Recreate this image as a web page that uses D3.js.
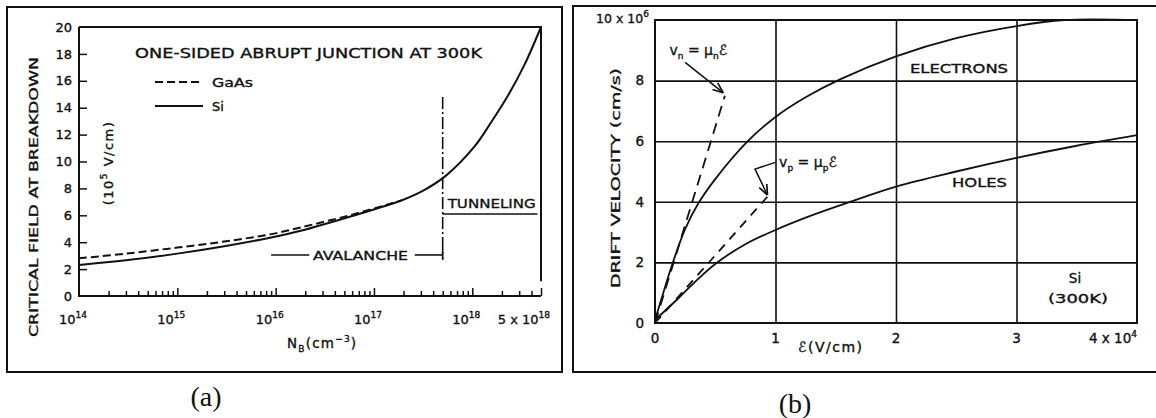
<!DOCTYPE html>
<html><head><meta charset="utf-8">
<script src="https://cdn.jsdelivr.net/npm/d3@7/dist/d3.min.js"></script>
<style>
html,body{margin:0;padding:0;background:#fff;}
svg{display:block;}
text{font-family:"DejaVu Sans",sans-serif;fill:#111;stroke:#111;stroke-width:0.35px;}
text.serif{stroke:none;}
</style></head><body>
<svg id="c" width="1156" height="418"></svg>
<script>
// ---------------- Panel (a): critical field vs doping ----------------
const dopingMajorTicks = [1e14, 1e15, 1e16, 1e17, 1e18, 5e18];
const dopingTickBase = ["10", "10", "10", "10", "10", "5 x 10"];
const dopingTickExp = ["14", "15", "16", "17", "18", "18"];
const fieldTicks = [0, 2, 4, 6, 8, 10, 12, 14, 16, 18, 20];
const siDoping = [1e14, 3e14, 1e15, 3e15, 9e15, 1.8e16, 6e16, 1.9e17, 3.2e17, 5.4e17, 1.05e18, 1.55e18, 2.35e18, 3.4e18, 5e18];
const siField = [2.3, 2.65, 3.15, 3.7, 4.35, 4.85, 5.95, 7.1, 7.85, 8.95, 11.1, 12.9, 15.0, 17.2, 20.0];
const gaasDoping = [1e14, 3e14, 1e15, 3e15, 9e15, 1.8e16, 6e16, 1.9e17];
const gaasField = [2.8, 3.15, 3.6, 4.05, 4.6, 5.1, 6.05, 7.1];
const boundaryDoping = 5e17;          // avalanche / tunneling boundary
const boundaryField = [2.8, 14.8];
const tunnelingField = 6.1;
const avalancheField = 3.05;

// ---------------- Panel (b): drift velocity vs field ----------------
const eTicks = [0, 1, 2, 3, 4];
const eTickLabels = ["0", "1", "2", "3", "4 x 10"];
const vTicks = [0, 2, 4, 6, 8, 10];
const electronE = [0, 0.05, 0.14, 0.25, 0.36, 0.5, 0.77, 1.0, 1.25, 1.54, 2.0, 2.5, 3.0, 3.4, 4.0];
const electronV = [0.1, 0.75, 1.9, 3.1, 3.95, 4.75, 6.0, 6.8, 7.45, 8.05, 8.8, 9.4, 9.8, 10.0, 10.0];
const holeE = [0, 0.19, 0.33, 0.5, 0.75, 1.0, 1.3, 1.6, 2.0, 2.5, 3.0, 3.5, 4.0];
const holeV = [0.1, 0.8, 1.35, 1.95, 2.6, 3.07, 3.55, 3.97, 4.5, 5.0, 5.45, 5.85, 6.2];
const vnE = [0, 0.58], vnV = [0, 7.5];
const vpE = [0, 0.94], vpV = [0, 4.2];

const ink = "#111";
const svg = d3.select("#c");

// marker
const defs = svg.append("defs");
defs.append("marker").attr("id", "arr").attr("viewBox", "0 0 10 10").attr("refX", 9).attr("refY", 5)
  .attr("markerWidth", 7).attr("markerHeight", 7).attr("orient", "auto-start-reverse")
  .append("path").attr("d", "M0,1 L10,5 L0,9").attr("fill", "none").attr("stroke", ink).attr("stroke-width", 1.6);

// panel outer boxes
svg.append("rect").attr("x", 7).attr("y", 7).attr("width", 555).attr("height", 365)
  .attr("fill", "none").attr("stroke", ink).attr("stroke-width", 2);
svg.append("rect").attr("x", 573).attr("y", 6).attr("width", 620).attr("height", 366)
  .attr("fill", "none").attr("stroke", ink).attr("stroke-width", 2);

// ================= Panel (a) =================
const xa = d3.scaleLog().domain([1e14, 5e18]).range([79, 541]);
const ya = d3.scaleLinear().domain([0, 20]).range([296, 27]);
const ga = svg.append("g");

// frame
ga.append("path").attr("d", `M${xa(1e14)},${ya(20)} V${ya(0)} H${xa(5e18)} M${xa(1e14)},${ya(20)} H${xa(5e18)} V${ya(1.1)}`)
  .attr("fill", "none").attr("stroke", ink).attr("stroke-width", 2);

// minor & major ticks on log axis (pointing up)
const minor = [];
for (let e = 14; e <= 18; e++) for (let m = 2; m <= 9; m++) { const v = m * Math.pow(10, e); if (v < 5e18) minor.push(v); }
ga.append("g").attr("transform", `translate(0,${ya(0)})`)
  .call(d3.axisBottom(xa).tickValues(minor).tickSize(-5).tickFormat(""))
  .call(g => g.select(".domain").remove())
  .call(g => g.selectAll("line").attr("stroke", ink).attr("stroke-width", 1.5));
ga.append("g").attr("transform", `translate(0,${ya(0)})`)
  .call(d3.axisBottom(xa).tickValues(dopingMajorTicks.slice(1)).tickSize(-8).tickFormat(""))
  .call(g => g.select(".domain").remove())
  .call(g => g.selectAll("line").attr("stroke", ink).attr("stroke-width", 1.5));

// x tick labels
dopingMajorTicks.forEach((v, i) => {
  const last = i === dopingMajorTicks.length - 1;
  const t = ga.append("text").attr("x", last ? xa(v) + 9 : xa(v) - 6).attr("y", 324)
    .attr("text-anchor", last ? "end" : "middle").attr("font-size", 13);
  t.append("tspan").text(dopingTickBase[i]);
  t.append("tspan").attr("dy", -6).attr("font-size", 9).text(dopingTickExp[i]);
});

// y ticks (inward)
ga.append("g").attr("transform", `translate(${xa(1e14)},0)`)
  .call(d3.axisLeft(ya).tickValues(fieldTicks.slice(1, -1)).tickSize(-8).tickFormat(""))
  .call(g => g.select(".domain").remove())
  .call(g => g.selectAll("line").attr("stroke", ink).attr("stroke-width", 1.5));
ga.selectAll(".ylab").data(fieldTicks).join("text").attr("class", "ylab")
  .attr("x", 72).attr("y", d => ya(d)).attr("dy", "0.36em").attr("text-anchor", "end")
  .attr("font-size", 13).text(d => d);

// curves
const lineA = d3.line().x(d => xa(d[0])).y(d => ya(d[1])).curve(d3.curveCatmullRom.alpha(0.5));
ga.append("path").attr("d", lineA(d3.zip(siDoping, siField)))
  .attr("fill", "none").attr("stroke", ink).attr("stroke-width", 2);
ga.append("path").attr("d", lineA(d3.zip(gaasDoping, gaasField)))
  .attr("fill", "none").attr("stroke", ink).attr("stroke-width", 2).attr("stroke-dasharray", "8,4");

// boundary dash-dot
ga.append("line").attr("x1", xa(boundaryDoping)).attr("x2", xa(boundaryDoping))
  .attr("y1", ya(boundaryField[1])).attr("y2", ya(boundaryField[0]))
  .attr("stroke", ink).attr("stroke-width", 1.6).attr("stroke-dasharray", "12,3,2,3");

// tunneling
ga.append("line").attr("x1", xa(boundaryDoping)).attr("x2", xa(4.6e18))
  .attr("y1", ya(tunnelingField)).attr("y2", ya(tunnelingField)).attr("stroke", ink).attr("stroke-width", 1.6);
ga.append("text").attr("x", xa(boundaryDoping) + 5).attr("y", ya(tunnelingField) - 6)
  .attr("font-size", 12.5).attr("textLength", 88).attr("lengthAdjust", "spacingAndGlyphs").text("TUNNELING");

// avalanche
ga.append("line").attr("x1", xa(9e15)).attr("x2", xa(2.2e16))
  .attr("y1", ya(avalancheField)).attr("y2", ya(avalancheField)).attr("stroke", ink).attr("stroke-width", 1.6);
ga.append("line").attr("x1", xa(2.6e17)).attr("x2", xa(boundaryDoping))
  .attr("y1", ya(avalancheField)).attr("y2", ya(avalancheField)).attr("stroke", ink).attr("stroke-width", 1.6);
ga.append("line").attr("x1", xa(boundaryDoping)).attr("x2", xa(boundaryDoping))
  .attr("y1", ya(avalancheField) - 6).attr("y2", ya(avalancheField) + 5).attr("stroke", ink).attr("stroke-width", 1.6);
ga.append("text").attr("x", 313).attr("y", ya(avalancheField) + 5)
  .attr("font-size", 12.5).attr("textLength", 95).attr("lengthAdjust", "spacingAndGlyphs").text("AVALANCHE");

// title & legend
ga.append("text").attr("x", 135).attr("y", 58).attr("font-size", 14)
  .attr("textLength", 347).attr("lengthAdjust", "spacingAndGlyphs").text("ONE-SIDED ABRUPT JUNCTION AT 300K");
ga.append("line").attr("x1", 155).attr("x2", 201).attr("y1", 82).attr("y2", 82)
  .attr("stroke", ink).attr("stroke-width", 2).attr("stroke-dasharray", "8,4");
ga.append("text").attr("x", 212).attr("y", 87).attr("font-size", 12.5)
  .attr("textLength", 41).attr("lengthAdjust", "spacingAndGlyphs").text("GaAs");
ga.append("line").attr("x1", 155).attr("x2", 203).attr("y1", 106).attr("y2", 106)
  .attr("stroke", ink).attr("stroke-width", 2);
ga.append("text").attr("x", 212).attr("y", 111).attr("font-size", 13).text("Si");

// axis titles
ga.append("text").attr("transform", "translate(38,197) rotate(-90)").attr("text-anchor", "middle")
  .attr("font-size", 12.5).attr("textLength", 280).attr("lengthAdjust", "spacingAndGlyphs").text("CRITICAL FIELD AT BREAKDOWN");
{
  const t = ga.append("text").attr("transform", "translate(113,163) rotate(-90)").attr("text-anchor", "middle")
    .attr("font-size", 13).attr("letter-spacing", 1.5);
  t.append("tspan").text("(10");
  t.append("tspan").attr("dy", -6).attr("font-size", 9).text("5");
  t.append("tspan").attr("dy", 6).text(" V/cm)");
}
{
  const t = ga.append("text").attr("x", 287).attr("y", 348).attr("font-size", 13.5).attr("letter-spacing", 1.2);
  t.append("tspan").text("N");
  t.append("tspan").attr("dy", 4).attr("font-size", 9).text("B");
  t.append("tspan").attr("dy", -4).text("(cm");
  t.append("tspan").attr("dy", -6).attr("font-size", 9).text("−3");
  t.append("tspan").attr("dy", 6).text(")");
}

// ================= Panel (b) =================
const xb = d3.scaleLinear().domain([0, 4]).range([655, 1137]);
const yb = d3.scaleLinear().domain([0, 10]).range([323, 20]);
const gb = svg.append("g");

// grid
gb.append("g").attr("transform", `translate(0,${yb(0)})`)
  .call(d3.axisBottom(xb).tickValues(eTicks.slice(1, -1)).tickSize(-(yb(0) - yb(10))).tickFormat(""))
  .call(g => g.select(".domain").remove())
  .call(g => g.selectAll("line").attr("stroke", ink).attr("stroke-width", 1.6));
gb.append("g").attr("transform", `translate(${xb(0)},0)`)
  .call(d3.axisLeft(yb).tickValues(vTicks.slice(1, -1)).tickSize(-(xb(4) - xb(0))).tickFormat(""))
  .call(g => g.select(".domain").remove())
  .call(g => g.selectAll("line").attr("stroke", ink).attr("stroke-width", 1.6));
gb.append("rect").attr("x", xb(0)).attr("y", yb(10)).attr("width", xb(4) - xb(0)).attr("height", yb(0) - yb(10))
  .attr("fill", "none").attr("stroke", ink).attr("stroke-width", 2);

// tick labels
gb.selectAll(".yl").data(vTicks.slice(0, -1)).join("text").attr("class", "yl")
  .attr("x", 644).attr("y", d => yb(d)).attr("dy", "0.36em").attr("text-anchor", "end")
  .attr("font-size", 13.5).text(d => d);
{
  const t = gb.append("text").attr("x", 649).attr("y", yb(10) + 3).attr("text-anchor", "end").attr("font-size", 12.5);
  t.append("tspan").text("10 x 10");
  t.append("tspan").attr("dy", -6).attr("font-size", 9).text("6");
}
eTicks.forEach((v, i) => {
  const last = i === eTicks.length - 1;
  const t = gb.append("text").attr("x", xb(v)).attr("y", 343)
    .attr("text-anchor", last ? "end" : "middle").attr("font-size", 13.5);
  t.append("tspan").text(eTickLabels[i]);
  if (last) t.append("tspan").attr("dy", -6).attr("font-size", 9).text("4");
});

// curves
const lineB = d3.line().x(d => xb(d[0])).y(d => yb(d[1])).curve(d3.curveCatmullRom.alpha(0.5));
gb.append("path").attr("d", lineB(d3.zip(electronE, electronV)))
  .attr("fill", "none").attr("stroke", ink).attr("stroke-width", 1.8);
gb.append("path").attr("d", lineB(d3.zip(holeE, holeV)))
  .attr("fill", "none").attr("stroke", ink).attr("stroke-width", 1.8);
const lineS = d3.line().x(d => xb(d[0])).y(d => yb(d[1]));
gb.append("path").attr("d", lineS(d3.zip(vnE, vnV)))
  .attr("fill", "none").attr("stroke", ink).attr("stroke-width", 1.8).attr("stroke-dasharray", "11,7");
gb.append("path").attr("d", lineS(d3.zip(vpE, vpV)))
  .attr("fill", "none").attr("stroke", ink).attr("stroke-width", 1.8).attr("stroke-dasharray", "9,7");

// annotations
gb.append("path").attr("d", lineS([[0.25, 8.6], [0.56, 7.62]]))
  .attr("fill", "none").attr("stroke", ink).attr("stroke-width", 1.5).attr("marker-end", "url(#arr)");
gb.append("path").attr("d", lineS([[1.0, 5.3], [0.83, 5.08], [0.93, 4.25]]))
  .attr("fill", "none").attr("stroke", ink).attr("stroke-width", 1.5).attr("marker-end", "url(#arr)");
function eqLabel(x, y, s) {
  const t = gb.append("text").attr("x", x).attr("y", y).attr("font-size", 14);
  t.append("tspan").text("v");
  t.append("tspan").attr("dy", 4).attr("font-size", 9).text(s);
  t.append("tspan").attr("dy", -4).text(" = μ");
  t.append("tspan").attr("dy", 4).attr("font-size", 9).text(s);
  t.append("tspan").attr("dy", -4).attr("font-style", "italic").text("ℰ");
}
eqLabel(xb(0.12), yb(9.0) + 5, "n");
eqLabel(xb(1.03), yb(5.3) + 5, "p");

gb.append("text").attr("x", 910).attr("y", 73).attr("font-size", 13)
  .attr("textLength", 98).attr("lengthAdjust", "spacingAndGlyphs").text("ELECTRONS");
gb.append("text").attr("x", 952).attr("y", 187).attr("font-size", 13)
  .attr("textLength", 55).attr("lengthAdjust", "spacingAndGlyphs").text("HOLES");
gb.append("text").attr("x", 1075).attr("y", 283).attr("text-anchor", "middle").attr("font-size", 13.5).text("Si");
gb.append("text").attr("x", 1078).attr("y", 303).attr("text-anchor", "middle").attr("font-size", 13)
  .attr("textLength", 60).attr("lengthAdjust", "spacingAndGlyphs").text("(300K)");

gb.append("text").attr("transform", "translate(620,178) rotate(-90)").attr("text-anchor", "middle")
  .attr("font-size", 13).attr("textLength", 220).attr("lengthAdjust", "spacingAndGlyphs").text("DRIFT VELOCITY (cm/s)");
gb.append("text").attr("x", 798).attr("y", 352).attr("font-size", 14).attr("letter-spacing", 1.5)
  .html('<tspan font-style="italic">ℰ</tspan>(V/cm)');

// panel labels
svg.append("text").attr("class", "serif").attr("x", 206).attr("y", 406).attr("text-anchor", "middle")
  .style("font-family", "'Liberation Serif', 'DejaVu Serif', serif").attr("font-size", 28).text("(a)");
svg.append("text").attr("class", "serif").attr("x", 795).attr("y", 413).attr("text-anchor", "middle")
  .style("font-family", "'Liberation Serif', 'DejaVu Serif', serif").attr("font-size", 28).text("(b)");
</script>
</body></html>
